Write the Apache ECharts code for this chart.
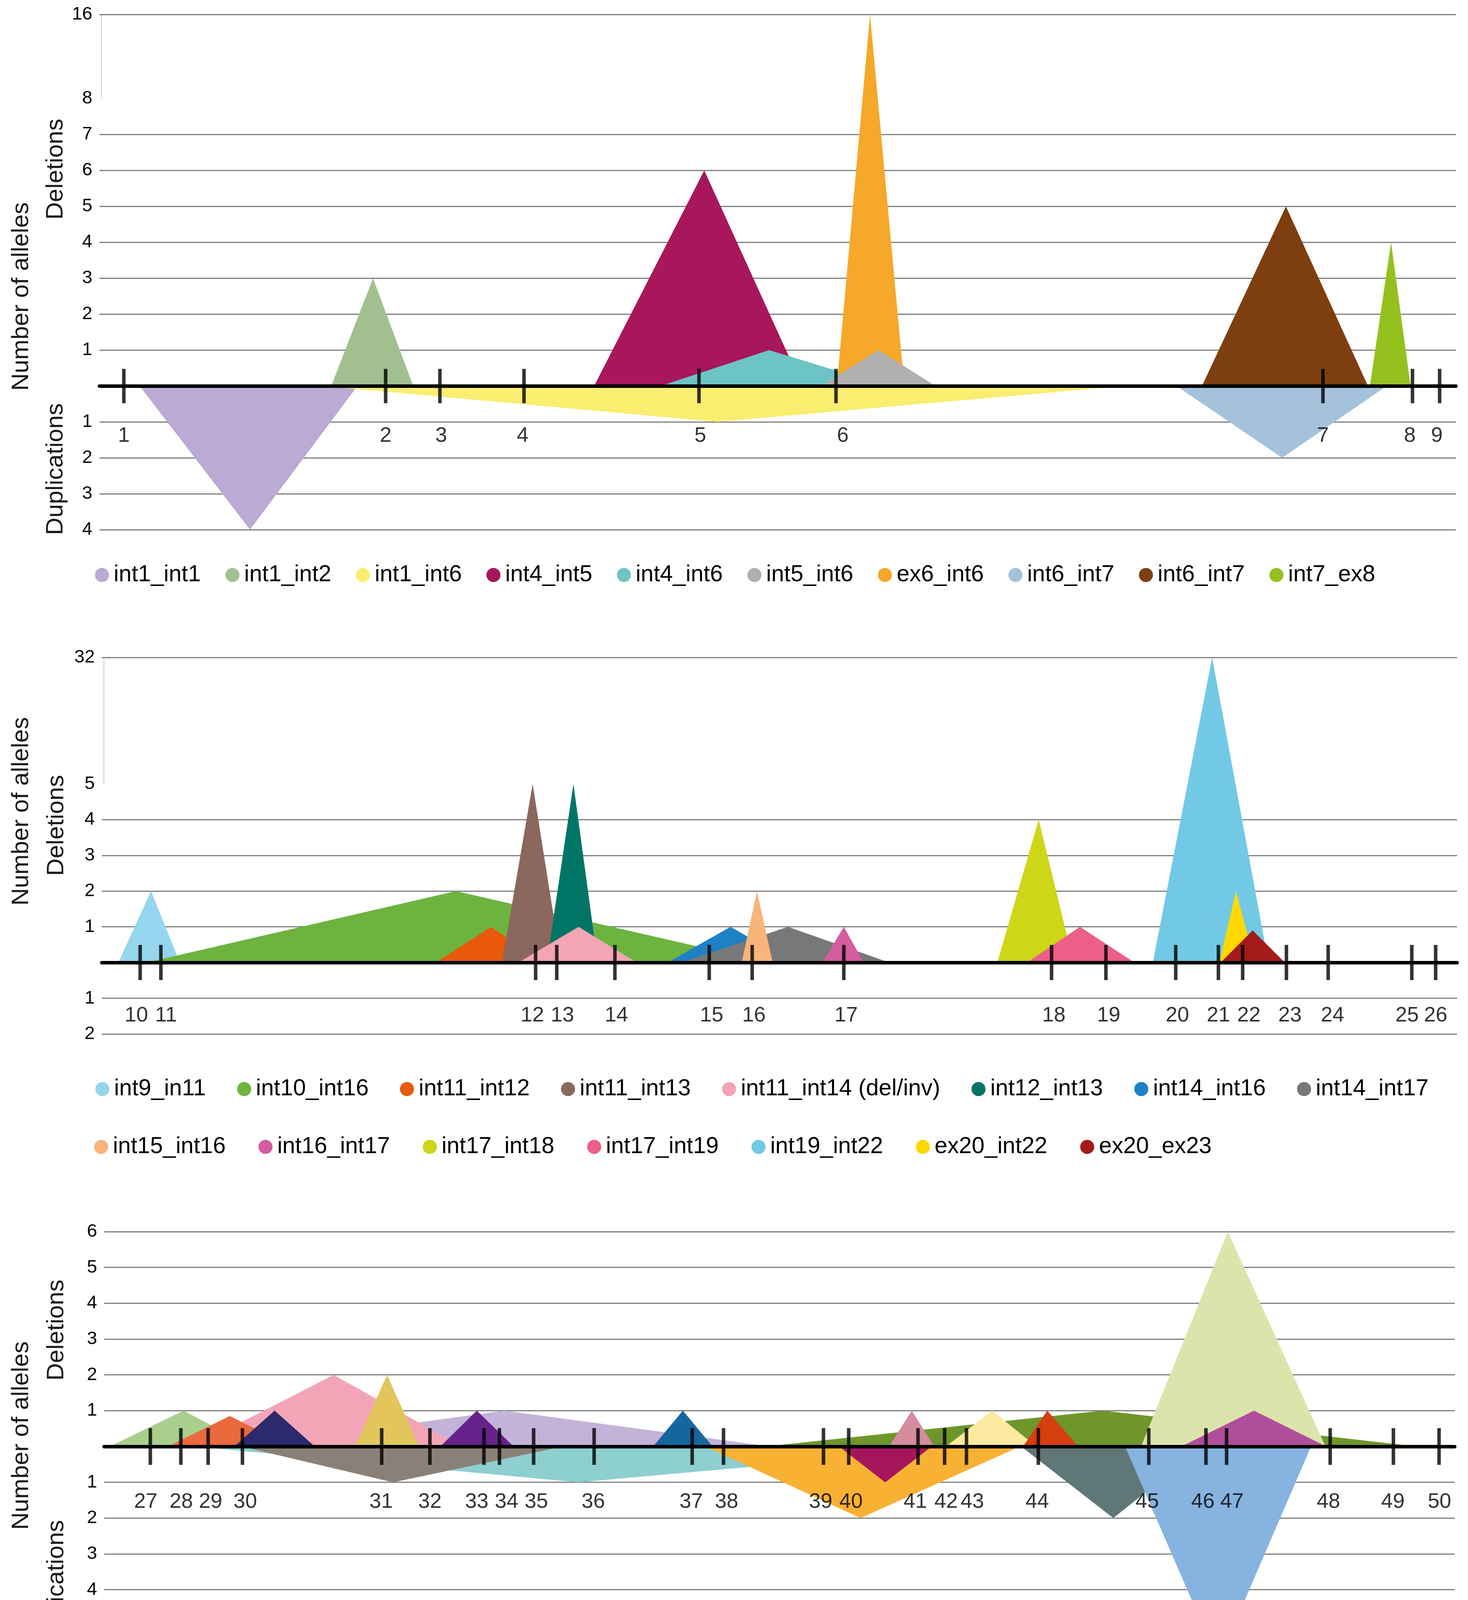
<!DOCTYPE html>
<html>
<head>
<meta charset="utf-8">
<script src="https://cdn.jsdelivr.net/npm/echarts@6.0.0/dist/echarts.min.js"></script>
<style>
    html, body { margin: 0; padding: 0; background: #fff; }
    #ChartDIV { width: 3758px; height: 4709px; }
</style>
</head>
<body>
<div id="ChartDIV"></div>
<script>
// x positions are in relative units along the gene (0 - 1000 per panel)

//-- panel 1 : exons 1-9
var p1Names = ['int1_int1', 'int1_int2', 'int1_int6', 'int4_int5', 'int4_int6', 'int5_int6', 'ex6_int6', 'int6_int7', 'int6_int7\u200b', 'int7_ex8'];
var p1Start = [29.7, 170.9, 165.7, 364.7, 413.7, 531.7, 543.6, 794.1, 812.8, 936.6];
var p1Peak = [111, 201.7, 455.4, 445.9, 493.7, 574.4, 568.1, 871.9, 874.7, 952.2];
var p1End = [190.2, 231.4, 755, 518.2, 580.4, 616.4, 593.4, 949, 935.2, 966.6];
var p1Alleles = [-4, 3, -1, 6, 1, 1, 16, -2, 5, 4];
var p1Exons = [18, 211, 251, 313, 442, 543, 902, 968, 988];
var p1ExonLabelPos = [18, 211, 252, 312, 443, 548, 902, 966, 986];
var p1ExonLabels = ['1', '2', '3', '4', '5', '6', '7', '8', '9'];

//-- panel 2 : exons 10-26
var p2Names = ['int9_in11', 'int10_int16', 'int11_int12', 'int11_int13', 'int11_int14 (del/inv)', 'int12_int13', 'int14_int16', 'int14_int17',
    'int15_int16', 'int16_int17', 'int17_int18', 'int17_int19', 'int19_int22', 'ex20_int22', 'ex20_ex23'];
var p2Start = [12.2, 33.2, 246.3, 295.3, 307.4, 328.4, 417.5, 427.8, 472.2, 531.8, 660.8, 682.6, 775.5, 824.6, 825.6];
var p2Peak = [36.3, 261.3, 287.2, 317.9, 351.8, 348, 463.9, 506.3, 483.4, 547.5, 691.3, 721.8, 819.3, 836.9, 849.2];
var p2End = [57.6, 491.3, 326.7, 338.8, 394.7, 365.9, 510.3, 581, 495, 562.2, 717, 761.9, 860.8, 851, 872.9];
var p2Alleles = [2, 2, 1, 5, 1, 5, 1, 1, 2, 1, 4, 1, 32, 2, 0.9];
var p2Exons = [28.3, 43.6, 320.1, 335.7, 378.6, 448.2, 479.9, 547.5, 700.8, 740.9, 792.4, 823.9, 841.8, 874.1, 904.9, 966.6, 984.2];
var p2ExonLabelPos = [25.5, 47.4, 317.7, 339.9, 379.7, 450, 481.2, 549.2, 702.5, 742.9, 793.6, 823.9, 846.4, 876.7, 908.1, 963.1, 984.2];
var p2ExonLabels = ['10', '11', '12', '13', '14', '15', '16', '17', '18', '19', '20', '21', '22', '23', '24', '25', '26'];

//-- panel 3 : exons 27-50
var p3Names = ['int26_int30', 'int27_int30', 'int27_int43', 'int28_ex33', 'int29_int30', 'int29_int35', 'int30_int31', 'ex30_int38', 'int32_int34',
    'int37_int44', 'int36_int37', 'int39_int41', 'int38_int49', 'int40_int41', 'ex42_ex44', 'int43_int45 & int43_ex46', 'int43_int44',
    'int44_int44 & int44_ex48', 'int44_int47 (delins)', 'int45_ex48'];
var p3Start = [4.2, 47.3, 66.6, 66.6, 96.4, 101.6, 185.8, 103.4, 248.9, 445.3, 406.5, 544.2, 489.6, 581.2, 623.4, 679, 680.4, 767.8, 755.9, 797.5];
var p3Peak = [58.8, 93, 351.2, 169.9, 126.2, 213.9, 209.5, 296.3, 275.9, 560.1, 428.5, 578.3, 739.4, 598, 657.5, 747.2, 698.3, 832, 825, 851.4];
var p3End = [108.6, 138.4, 646, 264.8, 156, 340, 233.2, 493.3, 303.2, 678, 450.5, 612.7, 971.8, 614.6, 690.2, 813.5, 721.2, 904.3, 893.6, 904.9];
var p3Alleles = [1, 0.85, -1, 2, 1, -1, 2, 1, 1, -2, 1, -1, 1, 1, 1, -2, 1, 6, -6, 1];
var p3Exons = [34.2, 56.8, 77, 102.4, 205.5, 241.2, 281.2, 292.7, 318, 362.8, 435.4, 458.6, 532.6, 551.3, 602.6, 622.3, 638.5, 691.7, 773.5, 815.8, 831.1, 907.8, 954.6, 988.4];
var p3ExonLabelPos = [30.8, 57.1, 78.8, 104.5, 205.1, 241.2, 275.9, 298, 320, 362.2, 434.7, 460.9, 530.5, 553, 600.6, 623.4, 642.8, 690.9, 772.3, 813.5, 835.1, 906.5, 954.2, 988.7];
var p3ExonLabels = ['27', '28', '29', '30', '31', '32', '33', '34', '35', '36', '37', '38', '39', '40', '41', '42', '43', '44', '45', '46', '47', '48', '49', '50'];

//-- colours and drawing order (later = on top)
var p1Colors = ['#bbaad3', '#a2c08f', '#f9ee70', '#a8165c', '#6cc4c4', '#b0b0b0', '#f5a829', '#a5c2dc', '#7e3f10', '#95c11f'];
var p2Colors = ['#95d5ee', '#6cb43f', '#e8590c', '#8a685d', '#f3a4b5', '#007566', '#2080c6', '#787878',
    '#f9b47a', '#d55ca0', '#cdd617', '#ec5f88', '#72c9e6', '#ffd800', '#a51b1b'];
var p3Colors = ['#a8d08c', '#ea693d', '#8ecfd0', '#f3a5b8', '#2b2a6c', '#8a8077', '#e2c55b', '#c3b3d9', '#66228a',
    '#f8b133', '#15659f', '#a5155c', '#6f962b', '#d48c9e', '#fbe99f', '#5f7777', '#d63d0f',
    '#dbe5ab', '#86b3e0', '#b04f99'];
var p1Order = [0, 1, 2, 3, 4, 6, 5, 7, 8, 9];
var p2Order = [0, 1, 2, 3, 5, 4, 6, 7, 8, 9, 10, 11, 12, 13, 14];
var p3Order = [7, 3, 0, 1, 2, 4, 5, 6, 8, 9, 10, 11, 12, 13, 14, 15, 16, 17, 18, 19];

var FONT = 'Liberation Sans, Arial, sans-serif';

function triangleSeries(names, start, peak, end, alleles, colors, order, idx) {
    return order.map(function (i) {
        return {
            name: names[i],
            type: 'line',
            xAxisIndex: idx,
            yAxisIndex: idx,
            data: [[start[i], 0], [peak[i], alleles[i]], [end[i], 0]],
            symbol: 'none',
            lineStyle: { width: 0, opacity: 0 },
            areaStyle: { color: colors[i], opacity: 1 },
            itemStyle: { color: colors[i] },
            silent: true,
            animation: false,
            z: 2
        };
    });
}

function exonSeries(exons, labelPos, labels, idx, tickLen, labelOffset) {
    return [{
        type: 'scatter',
        xAxisIndex: idx,
        yAxisIndex: idx,
        symbol: 'rect',
        symbolSize: [9, tickLen],
        itemStyle: { color: '#000' },
        data: exons.map(function (x) { return [x, 0]; }),
        silent: true,
        animation: false,
        z: 20
    }, {
        type: 'scatter',
        xAxisIndex: idx,
        yAxisIndex: idx,
        symbolSize: 1,
        itemStyle: { color: 'rgba(0,0,0,0)' },
        data: labelPos.map(function (x, k) { return { value: [x, 0], name: labels[k] }; }),
        label: {
            show: true,
            formatter: '{b}',
            position: 'inside',
            offset: [0, labelOffset],
            fontSize: 54,
            fontFamily: FONT,
            color: '#000'
        },
        silent: true,
        animation: false,
        z: 20
    }];
}

//-- dotted marker on the left edge where the y axis is broken
function breakMarker(idx, from, to) {
    return {
        type: 'line',
        xAxisIndex: idx,
        yAxisIndex: idx,
        data: [],
        silent: true,
        animation: false,
        markLine: {
            symbol: 'none',
            silent: true,
            label: { show: false },
            lineStyle: { color: '#9a9a9a', type: 'dotted', width: 2 },
            data: [[{ coord: [1.5, from] }, { coord: [1.5, to] }]]
        }
    };
}

function xAxisFor(idx) {
    return {
        gridIndex: idx, type: 'value', min: 0, max: 1000,
        axisLabel: { show: false }, axisTick: { show: false }, splitLine: { show: false },
        axisLine: { show: true, onZero: true, lineStyle: { color: '#000', width: 9 } },
        z: 10
    };
}

function yAxisFor(idx, min, max, brk) {
    var ax = {
        gridIndex: idx, type: 'value', min: min, max: max, interval: 1,
        axisLine: { show: false }, axisTick: { show: false },
        axisLabel: {
            fontSize: 47, fontFamily: FONT, color: '#000', margin: 18,
            formatter: function (v) { return v === 0 ? '' : String(Math.abs(v)); }
        },
        splitLine: { lineStyle: { color: '#808080', width: 3 } }
    };
    if (brk) {
        ax.breaks = [brk];
        ax.breakArea = { show: false };
    }
    return ax;
}

function legendRow(names, left, top, gap) {
    return {
        data: names, left: left, top: top, orient: 'horizontal', icon: 'circle',
        itemWidth: 50, itemHeight: 36, itemGap: gap, selectedMode: false,
        textStyle: { fontSize: 59, fontFamily: FONT, color: '#000', lineHeight: 60 }
    };
}

function axisTitle(text, x, y) {
    return {
        type: 'text', x: x, y: y, rotation: Math.PI / 2,
        style: { text: text, fontSize: 62, fontFamily: FONT, fill: '#1a1a1a', textAlign: 'center', textVerticalAlign: 'middle' }
    };
}

var myChart = echarts.init(document.getElementById('ChartDIV'));

var option = {
    backgroundColor: '#fff',
    animation: false,
    grid: [
        { left: 254.5, top: 37.5, width: 3472.5, height: 1318.5 },
        { left: 260.6, top: 1683, width: 3469.4, height: 964 },
        { left: 266.6, top: 3153, width: 3457.4, height: 1100 }
    ],
    xAxis: [xAxisFor(0), xAxisFor(1), xAxisFor(2)],
    yAxis: [
        yAxisFor(0, -4, 16, { start: 8, end: 16, gap: '16.3%' }),
        yAxisFor(1, -2, 32, { start: 5, end: 32, gap: '33.6%' }),
        yAxisFor(2, -6, 6, null)
    ],
    legend: [
        legendRow(p1Names, 238, 1437, 63),
        legendRow(p2Names.slice(0, 8), 239, 2753, 80),
        legendRow(p2Names.slice(8), 236, 2901, 84),
        legendRow(p3Names.slice(0, 9), 232, 4332, 53),
        legendRow(p3Names.slice(9, 17), 230, 4493, 56),
        legendRow(p3Names.slice(17), 230, 4637, 97)
    ],
    graphic: [
        axisTitle('Number of alleles', 55, 759),
        axisTitle('Deletions', 143, 433),
        axisTitle('Duplications', 143, 1201),
        axisTitle('Number of alleles', 55, 2077),
        axisTitle('Deletions', 145, 2113),
        axisTitle('Number of alleles', 55, 3675),
        axisTitle('Deletions', 145, 3405),
        axisTitle('Duplications', 145, 4060)
    ],
    series: [].concat(
        triangleSeries(p1Names, p1Start, p1Peak, p1End, p1Alleles, p1Colors, p1Order, 0),
        triangleSeries(p2Names, p2Start, p2Peak, p2End, p2Alleles, p2Colors, p2Order, 1),
        triangleSeries(p3Names, p3Start, p3Peak, p3End, p3Alleles, p3Colors, p3Order, 2),
        exonSeries(p1Exons, p1ExonLabelPos, p1ExonLabels, 0, 88, 128),
        exonSeries(p2Exons, p2ExonLabelPos, p2ExonLabels, 1, 90, 136),
        exonSeries(p3Exons, p3ExonLabelPos, p3ExonLabels, 2, 94, 142),
        [breakMarker(0, 8.1, 15.9), breakMarker(1, 5.1, 31.9)]
    )
};

myChart.setOption(option);

//-- 圖表自適應
window.addEventListener('resize', function () {
    myChart.resize();
})
</script>
</body>
</html>
